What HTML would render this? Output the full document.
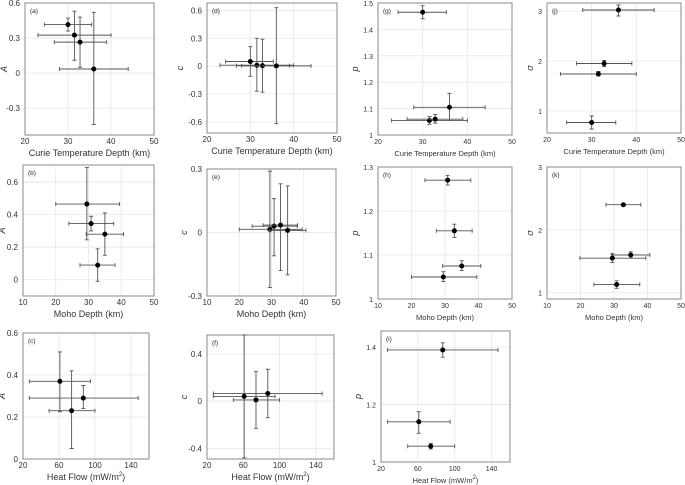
<!DOCTYPE html>
<html><head><meta charset="utf-8"><style>
body{margin:0;background:#fff}
svg{display:block;font-family:"Liberation Sans",sans-serif}
</style></head><body>
<svg id="fig" width="685" height="485"></svg>
<script>
// data arrays per panel: x, y, xlo, xhi, ylo, yhi
const aX=[30,31.5,32.8,36], aY=[0.415,0.325,0.265,0.035], aXlo=[24.5,23,26.8,28], aXhi=[35.5,40,39,44], aYlo=[0.36,0.11,0.05,-0.44], aYhi=[0.47,0.53,0.48,0.52];
const dX=[30,31.5,32.8,36], dY=[0.05,0.01,0.005,0.003], dXlo=[24.3,23,26.8,28], dXhi=[35.3,40,39,44], dYlo=[-0.11,-0.27,-0.28,-0.62], dYhi=[0.21,0.30,0.29,0.63];
const gX=[30,36,31.5,32.8], gY=[1.465,1.105,1.055,1.06], gXlo=[24.5,28,23,26.5], gXhi=[35.3,44,40,39], gYlo=[1.44,1.055,1.04,1.045], gYhi=[1.49,1.158,1.07,1.078];
const jX=[36,32.8,31.5,30], jY=[3.02,1.95,1.74,0.77], jXlo=[28,26.6,23,24.4], jXhi=[44,39,40,35.4], jYlo=[2.9,1.89,1.70,0.64], jYhi=[3.12,2.01,1.79,0.9];
const bX=[29.5,30.8,35,32.8], bY=[0.465,0.345,0.28,0.09], bXlo=[20,24,29.3,27.4], bXhi=[39.5,37.7,40.7,38.1], bYlo=[0.245,0.30,0.15,-0.01], bYhi=[0.69,0.39,0.41,0.19];
const eX=[29.5,30.8,32.8,35], eY=[0.015,0.03,0.035,0.01], eXlo=[20,24,27.4,29.3], eXhi=[39.5,38,38.1,40.7], eYlo=[-0.26,-0.11,-0.18,-0.2], eYhi=[0.29,0.16,0.23,0.22];
const hX=[30.8,32.8,35,29.5], hY=[1.27,1.155,1.075,1.05], hXlo=[24,27.4,29.3,20], hXhi=[37.7,38.1,40.7,39.5], hYlo=[1.259,1.14,1.065,1.04], hYhi=[1.281,1.17,1.087,1.062];
const kX=[32.8,35,29.5,30.8], kY=[2.4,1.6,1.55,1.13], kXlo=[27.6,29.3,19.8,24], kXhi=[38,40.7,39.5,37.7], kYlo=[2.38,1.55,1.48,1.07], kYhi=[2.42,1.65,1.62,1.19];
const cX=[61,87,74], cY=[0.37,0.29,0.23], cXlo=[27,27,49], cXhi=[95,148,100], cYlo=[0.225,0.24,0.05], cYhi=[0.51,0.35,0.42];
const fX=[61,74,87], fY=[0.04,0.01,0.065], fXlo=[27,49,27], fXhi=[95,100,147], fYlo=[-0.48,-0.23,-0.14], fYhi=[0.56,0.25,0.27];
const iX=[87,61,74], iY=[1.39,1.14,1.055], iXlo=[27,27,49], iXhi=[147,95,100], iYlo=[1.365,1.1,1.045], iYhi=[1.415,1.175,1.065];
const curieTicks=[20,30,40,50], mohoTicks=[10,20,30,40,50], heatTicks=[20,60,100,140];

const NS="http://www.w3.org/2000/svg", svg=document.getElementById('fig');
function el(t,a,p){const e=document.createElementNS(NS,t);for(const k in a)e.setAttribute(k,a[k]);(p||svg).appendChild(e);return e;}
function panel(o){
  const g=el('g',{});
  
  
  const sx=v=>o.l+(v-o.xr[0])/(o.xr[1]-o.xr[0])*(o.r-o.l);
  const sy=v=>o.b-(v-o.yr[0])/(o.yr[1]-o.yr[0])*(o.b-o.t);
  o.xt.forEach(v=>{const x=sx(v);
    if(v>o.xr[0]&&v<o.xr[1])el('line',{x1:x,x2:x,y1:o.t,y2:o.b,stroke:'#e6e6e6','stroke-width':0.8},g);
    const t=el('text',{x:x,y:o.b+9,'font-size':o.tfs||8,'text-anchor':'middle',fill:'#333'},g);t.textContent=v;
    });
  o.yt.forEach(v=>{const y=sy(v);
    if(v>o.yr[0]&&v<o.yr[1])el('line',{x1:o.l,x2:o.r,y1:y,y2:y,stroke:'#e6e6e6','stroke-width':0.8},g);
    const t=el('text',{x:o.l-5,y:y+3,'font-size':o.tfs||8,'text-anchor':'end',fill:'#333'},g);t.textContent=v;
    });
  el('rect',{x:o.l,y:o.t,width:o.r-o.l,height:o.b-o.t,fill:'none',stroke:'#888','stroke-width':1},g);
  const lab=el('text',{x:o.l+5,y:o.t+10,'font-size':6.5,fill:'#222'},g);lab.textContent='('+o.id+')';
  
  const xl=el('text',{x:(o.l+o.r)/2,y:o.b+21,'font-size':o.xfs||9,'text-anchor':'middle',fill:'#333'},g);
  xl.innerHTML=o.xlab;
  const yy=(o.t+o.b)/2,yx=o.l-o.yoff;
  const yl=el('text',{x:yx,y:yy,'font-size':9,'font-style':'italic','text-anchor':'middle',fill:'#333',transform:`rotate(-90 ${yx} ${yy})`},g);
  yl.textContent=o.ylab;
  const d=o.d;
  for(let i=0;i<d[0].length;i++){
    const x=sx(d[0][i]),y=sy(d[1][i]),x1=sx(d[2][i]),x2=sx(d[3][i]),y1=sy(d[4][i]),y2=sy(d[5][i]);
    const s={stroke:'#555','stroke-width':0.9};
    const eb=el('path',Object.assign({d:`M${x1},${y}H${x2}M${x1},${y-2}V${y+2}M${x2},${y-2}V${y+2}M${x},${y1}V${y2}M${x-2},${y1}H${x+2}M${x-2},${y2}H${x+2}`,fill:'none'},s),g);
    
    const p=el('circle',{cx:x,cy:y,r:2.5,fill:'#000'},g);
    
  }
}
const CT='Curie Temperature Depth (km)', MD='Moho Depth (km)', HF='Heat Flow (mW/m<tspan font-size="6" dy="-4">2</tspan><tspan dy="4">)</tspan>';
panel({id:'a',l:25,r:154,t:3,b:135,xr:[20,50],yr:[-0.53,0.6],xt:curieTicks,yt:[0.6,0.3,0,-0.3],xlab:CT,ylab:'A',yoff:18,d:[aX,aY,aXlo,aXhi,aYlo,aYhi]});
panel({id:'d',l:207,r:337,t:3,b:133,xr:[20,50],yr:[-0.72,0.68],xt:curieTicks,yt:[0.6,0.3,0,-0.3,-0.6],xlab:CT,ylab:'c',yoff:24,d:[dX,dY,dXlo,dXhi,dYlo,dYhi]});
panel({id:'g',l:378,r:512,t:3,b:135,xr:[20,50],yr:[1,1.5],xt:curieTicks,yt:[1.5,1.4,1.3,1.2,1.1,1],xlab:CT,ylab:'p',yoff:20,tfs:7,xfs:7.5,d:[gX,gY,gXlo,gXhi,gYlo,gYhi]});
panel({id:'j',l:547,r:681,t:3,b:133,xr:[20,50],yr:[0.56,3.16],xt:curieTicks,yt:[3,2,1],xlab:CT,ylab:'σ',yoff:14,tfs:7,xfs:7.5,d:[jX,jY,jXlo,jXhi,jYlo,jYhi]});
panel({id:'b',l:23,r:154,t:165,b:296,xr:[10,50],yr:[-0.1,0.705],xt:mohoTicks,yt:[0.6,0.4,0.2,0],xlab:MD,ylab:'A',yoff:18,d:[bX,bY,bXlo,bXhi,bYlo,bYhi]});
panel({id:'e',l:207,r:336,t:169,b:296,xr:[10,50],yr:[-0.3,0.3],xt:mohoTicks,yt:[0.3,0,-0.3],xlab:MD,ylab:'c',yoff:20,d:[eX,eY,eXlo,eXhi,eYlo,eYhi]});
panel({id:'h',l:378,r:512,t:167,b:299,xr:[10,50],yr:[1,1.3],xt:mohoTicks,yt:[1.3,1.2,1.1,1],xlab:MD,ylab:'p',yoff:20,tfs:7,xfs:7.5,d:[hX,hY,hXlo,hXhi,hYlo,hYhi]});
panel({id:'k',l:547,r:681,t:167,b:299,xr:[10,50],yr:[0.9,3],xt:mohoTicks,yt:[3,2,1],xlab:MD,ylab:'σ',yoff:14,tfs:7,xfs:7.5,d:[kX,kY,kXlo,kXhi,kYlo,kYhi]});
panel({id:'c',l:23,r:149,t:333,b:459,xr:[20,160],yr:[0,0.6],xt:heatTicks,yt:[0.6,0.4,0.2,0],xlab:HF,ylab:'A',yoff:18,d:[cX,cY,cXlo,cXhi,cYlo,cYhi]});
panel({id:'f',l:207,r:334,t:335,b:459,xr:[20,160],yr:[-0.49,0.56],xt:heatTicks,yt:[0.4,0,-0.4],xlab:HF,ylab:'c',yoff:20,d:[fX,fY,fXlo,fXhi,fYlo,fYhi]});
panel({id:'i',l:381,r:510,t:331,b:462,xr:[20,160],yr:[1,1.456],xt:heatTicks,yt:[1.4,1.2,1],xlab:HF,ylab:'p',yoff:20,tfs:7,xfs:7.5,d:[iX,iY,iXlo,iXhi,iYlo,iYhi]});
</script>
</body></html>
